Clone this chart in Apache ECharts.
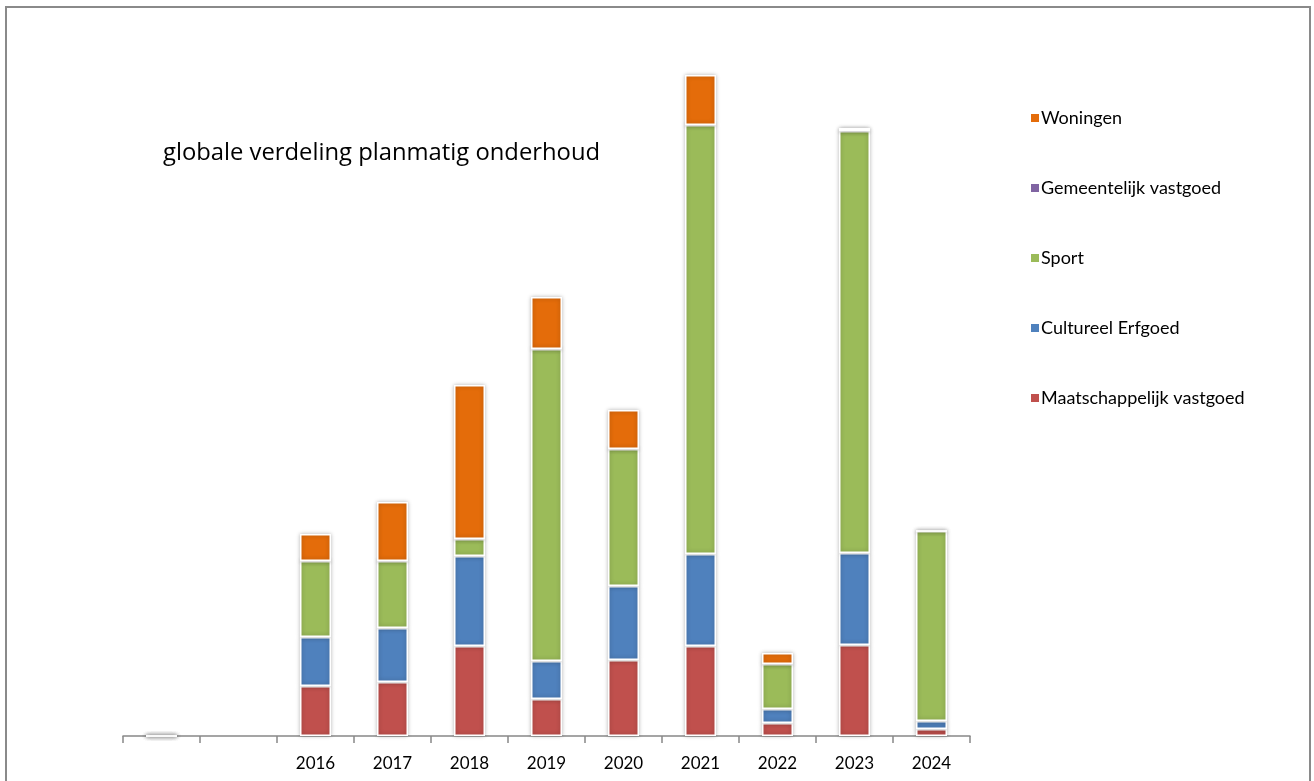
<!DOCTYPE html>
<html>
<head>
<meta charset="utf-8">
<script src="https://cdn.jsdelivr.net/npm/echarts@6/dist/echarts.min.js"></script>
<style>html,body{margin:0;padding:0;background:#fff;}#c{width:1314px;height:781px;}</style>
</head>
<body>
<div id="c"></div>
<script>
const categories = ['', '', '2016', '2017', '2018', '2019', '2020', '2021', '2022', '2023', '2024'];
const maatschappelijk = [0, null, 50, 54, 90, 37, 76, 90, 13, 91, 7];
const cultureel = [0, null, 49, 54, 90, 38, 74, 92, 14, 92, 8];
const sport = [0, null, 76, 67, 17, 312, 137, 429, 45, 422, 190];
const gemeentelijk = [0, null, 0, 0, 0, 0, 0, 0, 0, 0, 0];
const woningen = [0, null, 27, 59, 154, 52, 39, 50, 11, 3, 0];
const legendOrder = ['Woningen', 'Gemeentelijk vastgoed', 'Sport', 'Cultureel Erfgoed', 'Maatschappelijk vastgoed'];

const FONT = 'Lato, "Open Sans", sans-serif';
function mk(name, data, color) {
  return {
    name: name, type: 'bar', stack: 'total', data: data,
    barWidth: 31,
    itemStyle: { color: color, borderColor: '#fff', borderWidth: 1.5, shadowColor: 'rgba(0,0,0,0.28)', shadowBlur: 4 },
    emphasis: { disabled: true }
  };
}
const chart = echarts.init(document.getElementById('c'), null, { renderer: 'canvas' });
chart.setOption({
  animation: false,
  backgroundColor: '#fff',
  title: {
    text: 'globale verdeling planmatig onderhoud',
    left: 158, top: 136,
    textStyle: { fontFamily: '"Open Sans", sans-serif', fontSize: 23.8, fontWeight: 'normal', color: '#000' }
  },
  legend: {
    data: legendOrder,
    orient: 'vertical',
    left: 1024, top: 103,
    itemWidth: 10, itemHeight: 10, itemGap: 50,
    icon: 'rect',
    textStyle: { fontFamily: FONT, fontSize: 18, color: '#000', lineHeight: 20, padding: [0, 0, 0, -4] }
  },
  grid: { left: 123, right: 344, top: 36, bottom: 45 },
  xAxis: {
    type: 'category', data: categories,
    axisLine: { lineStyle: { color: '#888', width: 1.5 } },
    axisTick: { show: true, length: 7, lineStyle: { color: '#888', width: 1.5 } },
    axisLabel: { fontFamily: FONT, fontSize: 17, color: '#000', margin: 19 }
  },
  yAxis: {
    type: 'value', min: 0, max: 700, show: false,
    splitLine: { show: false }
  },
  graphic: [{
    type: 'rect', shape: { x: 6, y: 7, width: 1304, height: 800 },
    style: { fill: 'none', stroke: '#8a8a8a', lineWidth: 2 }, silent: true
  }],
  series: [
    mk('Maatschappelijk vastgoed', maatschappelijk, '#C0504D'),
    mk('Cultureel Erfgoed', cultureel, '#4F81BD'),
    mk('Sport', sport, '#9BBB59'),
    mk('Gemeentelijk vastgoed', gemeentelijk, '#8064A2'),
    mk('Woningen', woningen, '#E46C0A')
  ]
});
</script>
</body>
</html>
